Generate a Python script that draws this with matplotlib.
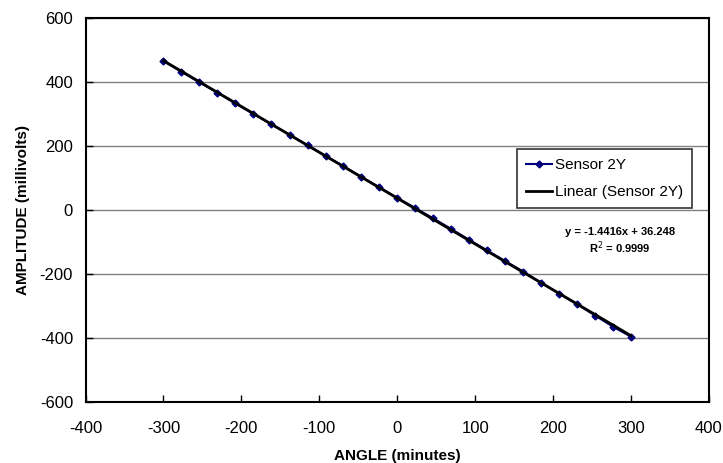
import numpy as np
import matplotlib
matplotlib.use("Agg")
import matplotlib.pyplot as plt

plt.rcParams['font.family'] = ['Liberation Sans', 'DejaVu Sans']
plt.rcParams['axes.unicode_minus'] = False

# sensor readings
angle = [-300, -277, -254, -231, -208, -185, -162, -138, -115, -92, -69, -46, -23,
         0, 23, 46, 69, 92, 115, 138, 162, 185, 208, 231, 254, 277, 300]
amplitude = [465, 432, 399, 367, 333, 301, 268, 235, 202, 169, 137, 103, 71,
             38, 6, -26, -59, -93, -126, -159, -193, -228, -262, -295, -330, -365, -396]

x_ticks = [-400, -300, -200, -100, 0, 100, 200, 300, 400]
y_ticks = [-600, -400, -200, 0, 200, 400, 600]

fig = plt.figure(figsize=(7.23, 4.63), dpi=100)
ax = fig.add_axes([0.1183, 0.1318, 0.8623, 0.8294])

# data series
ax.plot(angle, amplitude, color="#000080", linewidth=1.5, marker="D",
        markersize=3.5, label="Sensor 2Y", zorder=3)

# linear trendline
slope, intercept = np.polyfit(angle, amplitude, 1)
xs = np.array([angle[0], angle[-1]])
ax.plot(xs, slope * xs + intercept, color="black", linewidth=2,
        label="Linear (Sensor 2Y)", zorder=4)

ax.set_xlim(-400, 400)
ax.set_ylim(-600, 600)
ax.set_xticks(x_ticks)
ax.set_yticks(y_ticks)
ax.yaxis.grid(True, color="#808080", linewidth=1)
ax.set_axisbelow(True)
ax.tick_params(axis="both", direction="in", length=5, width=1, labelsize=12)
ax.tick_params(axis="x", pad=14)
ax.tick_params(axis="y", pad=9)

for s in ax.spines.values():
    s.set_linewidth(1.5)
    s.set_color("black")

ax.set_xlabel("ANGLE (minutes)", fontsize=11, fontweight="bold", labelpad=9)
ax.set_ylabel("AMPLITUDE (millivolts)", fontsize=11, fontweight="bold", labelpad=7)

leg = ax.legend(loc="upper left", bbox_to_anchor=(0.692, 0.659), borderaxespad=0,
                fontsize=11, frameon=True, fancybox=False, edgecolor="black",
                borderpad=0.6, handlelength=1.7, handletextpad=0.2, labelspacing=0.85)
leg.get_frame().set_linewidth(1.2)

ax.text(0.857, 0.418, "y = -1.4416x + 36.248\nR$^2$ = 0.9999", transform=ax.transAxes,
        ha="center", va="center", fontsize=8, fontweight="bold", linespacing=1.2)

fig.savefig("out.png", dpi=100)
